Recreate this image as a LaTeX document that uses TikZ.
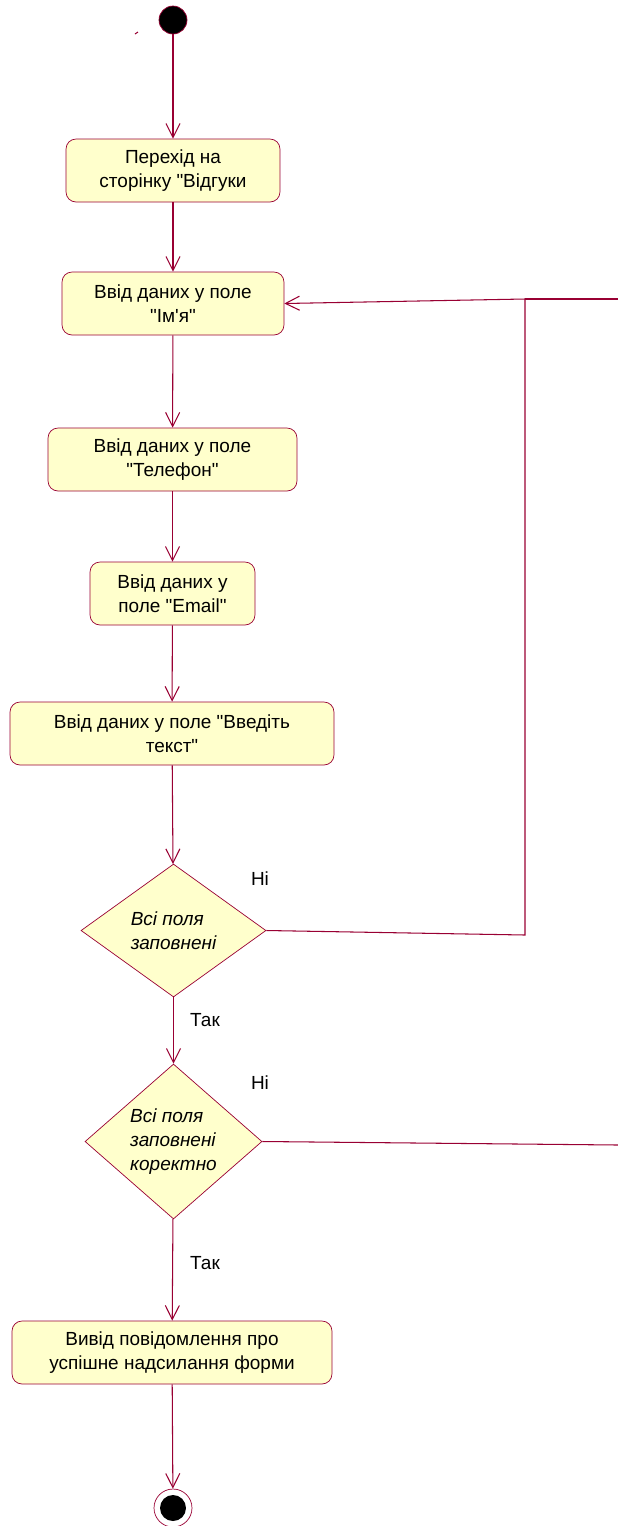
\documentclass[tikz,border=0pt]{standalone}
\usepackage{fontspec}
\setmainfont{Liberation Sans}[Ligatures=TeXOff]
\usetikzlibrary{shapes.geometric,arrows.meta}
\definecolor{ln}{RGB}{153,0,51}
\definecolor{fl}{RGB}{255,255,204}
\begin{document}
\begin{tikzpicture}[x=0.02cm,y=-0.02cm,
 act/.style={draw=ln, fill=fl, rounded corners=0.2cm, minimum height=1.26cm, align=center, font=\fontsize{10.8}{13.6}\selectfont, inner sep=0},
 dec/.style={diamond, draw=ln, fill=fl, inner sep=0, align=left, font=\fontsize{10.8}{13.6}\selectfont\itshape},
 flow/.style={draw=ln, line width=0.6pt, -{Straight Barb[length=8pt,width=8pt]}},
 plain/.style={draw=ln, line width=0.6pt},
 lbl/.style={font=\fontsize{10.8}{12}\selectfont}]
\useasboundingbox (0,0) rectangle (618,1526);
\node[circle, fill=black, draw=ln, minimum size=0.56cm, inner sep=0] (start) at (173,20) {};
\node[act, minimum width=4.28cm] (b1) at (173,170.5) {Перехід на\\сторінку "Відгуки};
\node[act, minimum width=4.44cm] (b2) at (173,303.5) {Ввід даних у поле\\"Ім'я"};
\node[act, minimum width=4.98cm] (b3) at (172.5,459.5) {Ввід даних у поле\\"Телефон"};
\node[act, minimum width=3.3cm] (b4) at (172.5,593.5) {Ввід даних у\\поле "Email"};
\node[act, minimum width=6.48cm] (b5) at (172,733.5) {Ввід даних у поле "Введіть\\текст"};
\node[dec, minimum width=3.7cm, minimum height=2.66cm] (d1) at (173.5,930.5) {Всі поля\\заповнені};
\node[dec, minimum width=3.54cm, minimum height=3.1cm] (d2) at (173.5,1141.5) {Всі поля\\заповнені\\коректно};
\node[act, minimum width=6.4cm] (b6) at (172,1352.5) {Вивід повідомлення про\\успішне надсилання форми};
\node[circle, draw=ln, fill=white, minimum size=0.76cm, inner sep=0] (end) at (173,1508) {};
\node[circle, fill=black, minimum size=0.52cm, inner sep=0] (endin) at (173,1508) {};
\node[lbl] (n1) at (260,879) {Ні};
\node[lbl] (n2) at (260,1083) {Ні};
\node[lbl] (t1) at (205,1020) {Так};
\node[lbl] (t2) at (205,1263) {Так};
\coordinate (c1) at (525,935);
\coordinate (c2) at (525,299);
\coordinate (r1) at (618,299);
\coordinate (r2) at (618,1145);
\draw[plain] (135,34) -- (138,32);
\draw[flow] (start) -- (b1);
\draw[flow] (b1) -- (b2);
\draw[flow] (b2) -- (b3);
\draw[flow] (b3) -- (b4);
\draw[flow] (b4) -- (b5);
\draw[flow] (b5) -- (d1);
\draw[flow] (d1) -- (d2);
\draw[flow] (d2) -- (b6);
\draw[flow] (b6) -- (end);
\draw[plain] (d1.east) -- (c1) -- (c2);
\draw[plain] (r1) -- (c2);
\draw[flow] (c2) -- (b2.east);
\draw[plain] (d2.east) -- (r2);
\end{tikzpicture}
\end{document}
